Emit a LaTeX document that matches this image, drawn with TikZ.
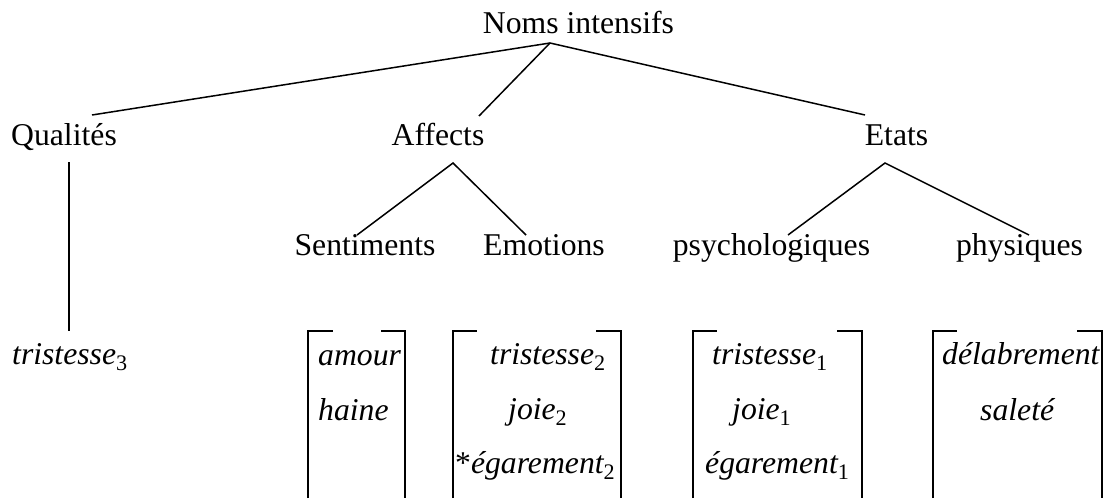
\documentclass[tikz,border=0pt]{standalone}
\usepackage{fontspec}
\setmainfont{Liberation Serif}
\begin{document}
\begin{tikzpicture}[x=1pt,y=-1pt,
  lbl/.style={inner sep=0pt,anchor=base,font=\fontsize{31.7}{38}\selectfont},
  itl/.style={inner sep=0pt,anchor=base west,font=\fontsize{31.7}{38}\selectfont\itshape},
  edge/.style={line width=1.5pt,line cap=butt},
  brk/.style={line width=1.6pt}]
\useasboundingbox (0,0) rectangle (1105,498);
% level labels
\node[lbl] (root) at (578.5,33) {Noms intensifs};
\node[lbl] (qual) at (64,145) {Qualités};
\node[lbl] (aff) at (438,145) {Affects};
\node[lbl] (eta) at (896.5,145) {Etats};
\node[lbl] (sent) at (365,255) {Sentiments};
\node[lbl] (emo) at (544,255) {Emotions};
\node[lbl] (psy) at (771.5,255) {psychologiques};
\node[lbl] (phy) at (1019.5,255) {physiques};
% connector end points
\coordinate (rootA) at (550,43);
\coordinate (qualT) at (92,115);
\coordinate (affT) at (479,116);
\coordinate (etaT) at (865,115);
\coordinate (qualB) at (69,162);
\coordinate (t3T) at (69,331);
\coordinate (affA) at (453,163);
\coordinate (sentT) at (357,235);
\coordinate (emoT) at (526,235);
\coordinate (etaA) at (885,163);
\coordinate (psyT) at (788,235);
\coordinate (phyT) at (1029,235);
\draw[edge] (qualT) -- (rootA) -- (etaT);
\draw[edge] (rootA) -- (affT);
\draw[edge] (qualB) -- (t3T);
\draw[edge] (sentT) -- (affA) -- (emoT);
\draw[edge] (psyT) -- (etaA) -- (phyT);
% leaves
\node[itl] (t3) at (12,364) {tristesse\textsubscript{\upshape 3}};
\node[itl] (amour) at (318,365) {amour};
\node[itl] (haine) at (318,420) {haine};
\node[itl] (t2) at (490,364) {tristesse\textsubscript{\upshape 2}};
\node[itl] (j2) at (508,419) {joie\textsubscript{\upshape 2}};
\node[itl] (e2) at (455,473) {\upshape*\itshape égarement\textsubscript{\upshape 2}};
\node[itl] (t1) at (712,364) {tristesse\textsubscript{\upshape 1}};
\node[itl] (j1) at (732,419) {joie\textsubscript{\upshape 1}};
\node[itl] (e1) at (705,473) {égarement\textsubscript{\upshape 1}};
\node[itl] (del) at (942,364) {délabrement};
\node[itl] (sal) at (980,420) {saleté};
% brackets
\draw[brk] (308,498) -- (308,331) -- (333,331);
\draw[brk] (381,331) -- (405,331) -- (405,498);
\draw[brk] (453,498) -- (453,331) -- (477,331);
\draw[brk] (596,331) -- (621,331) -- (621,498);
\draw[brk] (693,498) -- (693,331) -- (717,331);
\draw[brk] (837,331) -- (862,331) -- (862,498);
\draw[brk] (933,498) -- (933,331) -- (957,331);
\draw[brk] (1077,331) -- (1102,331) -- (1102,498);
\end{tikzpicture}
\end{document}
